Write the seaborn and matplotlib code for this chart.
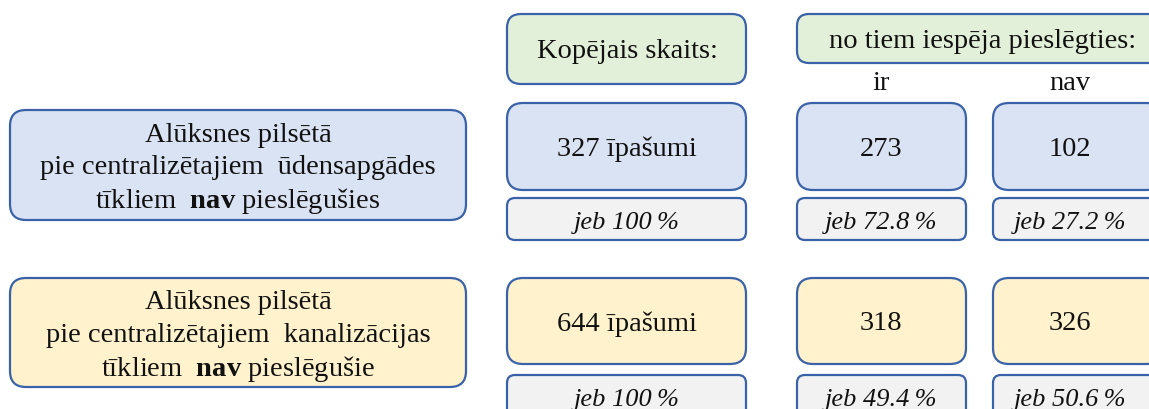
import matplotlib
matplotlib.use("Agg")
import matplotlib.pyplot as plt
import seaborn as sns
from matplotlib.patches import FancyBboxPatch

# Data
row_labels = [
    ["Alūksnes pilsētā", "pie centralizētajiem  ūdensapgādes", "tīkliem  $\\mathbf{nav}$ pieslēgušies"],
    ["Alūksnes pilsētā", "pie centralizētajiem  kanalizācijas", "tīkliem  $\\mathbf{nav}$ pieslēgušie"],
]
header_total = "Kopējais skaits:"
header_split = "no tiem iespēja pieslēgties:"
split_labels = ["ir", "nav"]
totals = [327, 644]
can_connect = [273, 318]
cannot_connect = [102, 326]
pct_total = ["100", "100"]
pct_can = ["72.8", "49.4"]
pct_cannot = ["27.2", "50.6"]
unit = "īpašumi"

# Styling
sns.set_theme(style="white")
plt.rcParams["font.family"] = ["Liberation Serif", "DejaVu Serif"]
plt.rcParams["mathtext.fontset"] = "custom"
plt.rcParams["mathtext.rm"] = "Liberation Serif"
plt.rcParams["mathtext.bf"] = "Liberation Serif:bold"

EDGE = "#3a62a8"
row_fill = ["#dae3f3", "#fff2cc"]
HEAD_FILL = "#e2f0d9"
PCT_FILL = "#f2f2f2"
FS = 20.5
PFS = 19

fig = plt.figure(figsize=(11.49, 4.09), dpi=100)
ax = fig.add_axes([0, 0, 1, 1])
ax.set_xlim(0, 1149)
ax.set_ylim(409, 0)
ax.axis("off")


def box(x0, y0, x1, y1, fill, r=14):
    p = FancyBboxPatch((x0, y0), x1 - x0, y1 - y0,
                       boxstyle=f"round,pad=0,rounding_size={r}",
                       facecolor=fill, edgecolor=EDGE, linewidth=1.6)
    ax.add_patch(p)


def txt(x, y, s, size=FS, **kw):
    # small downward nudge: "center" counts descenders
    ax.text(x, y + 3, s, ha="center", va="center", fontsize=size, color="#111111", **kw)


# columns (x ranges)
cols = [(507, 746), (797, 966), (993, 1162)]
col_c = [627, 881, 1070]

# headers
box(507, 14, 746, 84, HEAD_FILL)
txt(col_c[0], 49, header_total)
box(797, 14, 1165, 63, HEAD_FILL, r=12)
txt(983, 39, header_split)
txt(col_c[1], 80, split_labels[0])
txt(col_c[2], 80, split_labels[1])

# rows
row_y = [(110, 220), (278, 387)]
main_y = [(103, 190), (278, 364)]
pct_y = [(198, 240), (375, 425)]
for i in range(2):
    ly0, ly1 = row_y[i]
    box(10, ly0, 466, ly1, row_fill[i], r=16)
    mid = (ly0 + ly1) / 2
    for j, line in enumerate(row_labels[i]):
        txt(238, mid + (j - 1) * 33, line)

    vals = [f"{totals[i]} {unit}", str(can_connect[i]), str(cannot_connect[i])]
    pcts = [pct_total[i], pct_can[i], pct_cannot[i]]
    my0, my1 = main_y[i]
    py0, py1 = pct_y[i]
    for k, (cx0, cx1) in enumerate(cols):
        box(cx0, my0, cx1, my1, row_fill[i], r=16)
        txt(col_c[k], (my0 + my1) / 2, vals[k])
        box(cx0, py0, cx1, py1, PCT_FILL, r=8)
        txt(col_c[k], py0 + 22, f"jeb {pcts[k]}\u2009%", size=PFS, style="italic")

fig.savefig("out.png", dpi=100)
